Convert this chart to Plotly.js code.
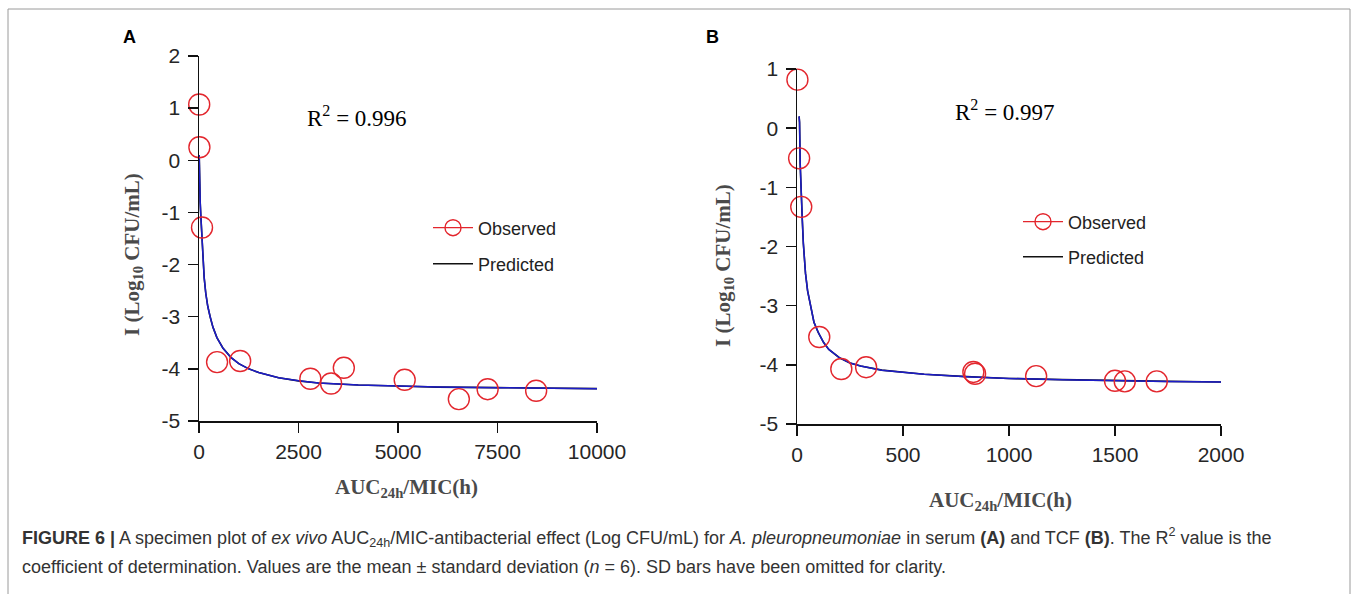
<!DOCTYPE html>
<html>
<head>
<meta charset="utf-8">
<script src="https://cdn.plot.ly/plotly-3.0.1.min.js"></script>
<style>
html,body{margin:0;padding:0;background:#fff;}
#chart{width:1357px;height:594px;}
</style>
</head>
<body>
<div id="chart"></div>
<script>
// ---------- data ----------
// Panel A : serum
const obsA_x = [5, 10, 76, 454, 1034, 2798, 3319, 3639, 5168, 6529, 7252, 8471];
const obsA_y = [1.07, 0.25, -1.29, -3.87, -3.85, -4.19, -4.28, -3.98, -4.21, -4.58, -4.39, -4.42];
const predA_x = [5, 10, 20, 30, 45, 60, 80, 100, 130, 170, 220, 280, 350, 450, 600, 800, 1000, 1250, 1500, 2000, 2500, 3000, 4000, 5000, 6000, 7500, 9000, 10000];
const predA_y = [0.1, -0.2, -0.55, -0.8, -1.05, -1.3, -1.65, -1.95, -2.25, -2.55, -2.8, -3.0, -3.2, -3.4, -3.6, -3.78, -3.9, -4.0, -4.07, -4.17, -4.23, -4.27, -4.31, -4.33, -4.35, -4.36, -4.37, -4.38];
// Panel B : TCF
const obsB_x = [2, 10, 20, 105, 209, 326, 832, 840, 1128, 1500, 1546, 1697];
const obsB_y = [0.82, -0.51, -1.33, -3.53, -4.07, -4.04, -4.12, -4.15, -4.19, -4.27, -4.28, -4.28];
const predB_x = [10, 12, 15, 20, 25, 30, 40, 50, 65, 80, 100, 125, 150, 200, 250, 300, 400, 500, 600, 800, 1000, 1250, 1500, 1750, 2000];
const predB_y = [0.2, 0.1, -0.6, -1.2, -1.55, -1.95, -2.45, -2.75, -3.05, -3.28, -3.45, -3.62, -3.74, -3.88, -3.97, -4.02, -4.09, -4.13, -4.16, -4.2, -4.23, -4.25, -4.27, -4.28, -4.29];
// tick labels
const xTicksA = [0, 2500, 5000, 7500, 10000];
const yTicksA = [-5, -4, -3, -2, -1, 0, 1, 2];
const xTicksB = [0, 500, 1000, 1500, 2000];
const yTicksB = [-5, -4, -3, -2, -1, 0, 1];
const r2A = "0.996";
const r2B = "0.997";

// ---------- layout helpers ----------
const W = 1357, H = 594;
const px = x => x / W;
const py = y => 1 - y / H;
const hy = v => String(v); // plain hyphen-minus labels

// interleave nulls so the observed trace shows a line in the legend but no connecting lines
function isolated(arr){ const o=[]; arr.forEach((v,i)=>{ o.push(v); if(i<arr.length-1) o.push(null); }); return o; }

const RED = '#e3262d';
const BLUE = '#1c1cc8';
const tickFont = {family: 'Liberation Sans, Arial, sans-serif', size: 21, color: '#262626'};
const legFont = {family: 'Liberation Sans, Arial, sans-serif', size: 18, color: '#222'};

function obsTrace(x, y, xa, ya, leg){
  return {type:'scatter', mode:'lines+markers', x: isolated(x), y: isolated(y), xaxis: xa, yaxis: ya,
    name:'Observed', legend: leg, cliponaxis:false, connectgaps:false,
    line:{color:RED, width:1.3},
    marker:{symbol:'circle-open', size:21, color:RED, line:{color:RED, width:1.4}}};
}
function predTraces(x, y, xa, ya, leg){
  return [
    {type:'scatter', mode:'lines', x:x, y:y, xaxis:xa, yaxis:ya, name:'Predicted', legend:leg,
      cliponaxis:false, line:{color:'#111', width:1.6}},
    {type:'scatter', mode:'lines', x:x, y:y, xaxis:xa, yaxis:ya, showlegend:false, hoverinfo:'skip',
      cliponaxis:false, line:{color:BLUE, width:1.5}}
  ];
}

const data = [
  ...predTraces(predA_x, predA_y, 'x', 'y', 'legend2'),
  obsTrace(obsA_x, obsA_y, 'x', 'y', 'legend'),
  ...predTraces(predB_x, predB_y, 'x2', 'y2', 'legend4'),
  obsTrace(obsB_x, obsB_y, 'x2', 'y2', 'legend3')
];

function axisCommon(){
  return {showline:true, linecolor:'#111', linewidth:1.5, ticks:'outside', ticklen:10, tickwidth:1.5,
    tickcolor:'#111', showgrid:false, zeroline:false, tickfont:tickFont, tickmode:'array',
    fixedrange:true};
}

const xA = Object.assign(axisCommon(), {domain:[px(199), px(597)], range:[0,10000], anchor:'y',
  tickvals:xTicksA, ticktext:xTicksA.map(hy), ticklabelstandoff:1});
const yA = Object.assign(axisCommon(), {domain:[py(421), py(56)], range:[-5,2], anchor:'x',
  tickvals:yTicksA, ticktext:yTicksA.map(hy), ticklabelstandoff:3});
const xB = Object.assign(axisCommon(), {domain:[px(797), px(1221)], range:[0,2000], anchor:'y2',
  tickvals:xTicksB, ticktext:xTicksB.map(hy), ticklabelstandoff:1});
const yB = Object.assign(axisCommon(), {domain:[py(424), py(69)], range:[-5,1], anchor:'x2',
  tickvals:yTicksB, ticktext:yTicksB.map(hy), ticklabelstandoff:3});

function leg(x, y){
  return {x:px(x), y:py(y), xanchor:'left', yanchor:'middle', bgcolor:'rgba(0,0,0,0)',
    borderwidth:0, font:legFont, itemwidth:40, itemsizing:'trace'};
}

const serif = 'Liberation Serif, Times New Roman, serif';
const sans = 'Liberation Sans, Arial, sans-serif';
const titleFont = {family: serif, size: 21, color: '#4a4a4a'};

function ann(text, x, y, font, extra){
  return Object.assign({text:text, x:px(x), y:py(y), xref:'paper', yref:'paper', showarrow:false,
    xanchor:'center', yanchor:'middle', font:font}, extra || {});
}

const annotations = [
  ann('<b>A</b>', 129, 37, {family:sans, size:18, color:'#000'}),
  ann('<b>B</b>', 712, 37, {family:sans, size:18, color:'#000'}),
  ann('R<sup>2</sup> = ' + r2A, 305, 116, {family:serif, size:23, color:'#000'}, {xanchor:'left'}),
  ann('R<sup>2</sup> = ' + r2B, 953, 111, {family:serif, size:23, color:'#000'}, {xanchor:'left'}),
  ann('<b>I (Log<sub>10</sub> CFU/mL)</b>', 133, 255, titleFont, {textangle:-90}),
  ann('<b>I (Log<sub>10</sub> CFU/mL)</b>', 724, 266, titleFont, {textangle:-90}),
  ann('<b>AUC<sub>24h</sub>/MIC(h)</b>', 406, 488, titleFont),
  ann('<b>AUC<sub>24h</sub>/MIC(h)</b>', 1000, 501, titleFont),
  ann('<b>FIGURE 6 |</b> A specimen plot of <i>ex vivo</i> AUC<sub>24h</sub>/MIC-antibacterial effect (Log CFU/mL) for <i>A. pleuropneumoniae</i> in serum <b>(A)</b> and TCF <b>(B)</b>. The R<sup>2</sup> value is the',
    20, 537, {family:sans, size:18, color:'#333'}, {xanchor:'left', align:'left'}),
  ann('coefficient of determination. Values are the mean ± standard deviation (<i>n</i> = 6). SD bars have been omitted for clarity.',
    20, 567, {family:sans, size:18, color:'#333'}, {xanchor:'left', align:'left'})
];

const layout = {
  width: W, height: H,
  margin:{l:0, r:0, t:0, b:0},
  paper_bgcolor:'#fff', plot_bgcolor:'rgba(0,0,0,0)',
  showlegend:true,
  xaxis:xA, yaxis:yA, xaxis2:xB, yaxis2:yB,
  legend: leg(428, 228),
  legend2: leg(428, 264),
  legend3: leg(1018, 222),
  legend4: leg(1018, 257),
  annotations: annotations,
  shapes:[
    {type:'rect', xref:'paper', yref:'paper', x0:px(8), x1:px(1350), y0:py(610), y1:py(9),
      line:{color:'#9a9a9a', width:1}, fillcolor:'rgba(0,0,0,0)', layer:'below'}
  ]
};

Plotly.newPlot('chart', data, layout, {displayModeBar:false, staticPlot:true});
</script>
</body>
</html>
